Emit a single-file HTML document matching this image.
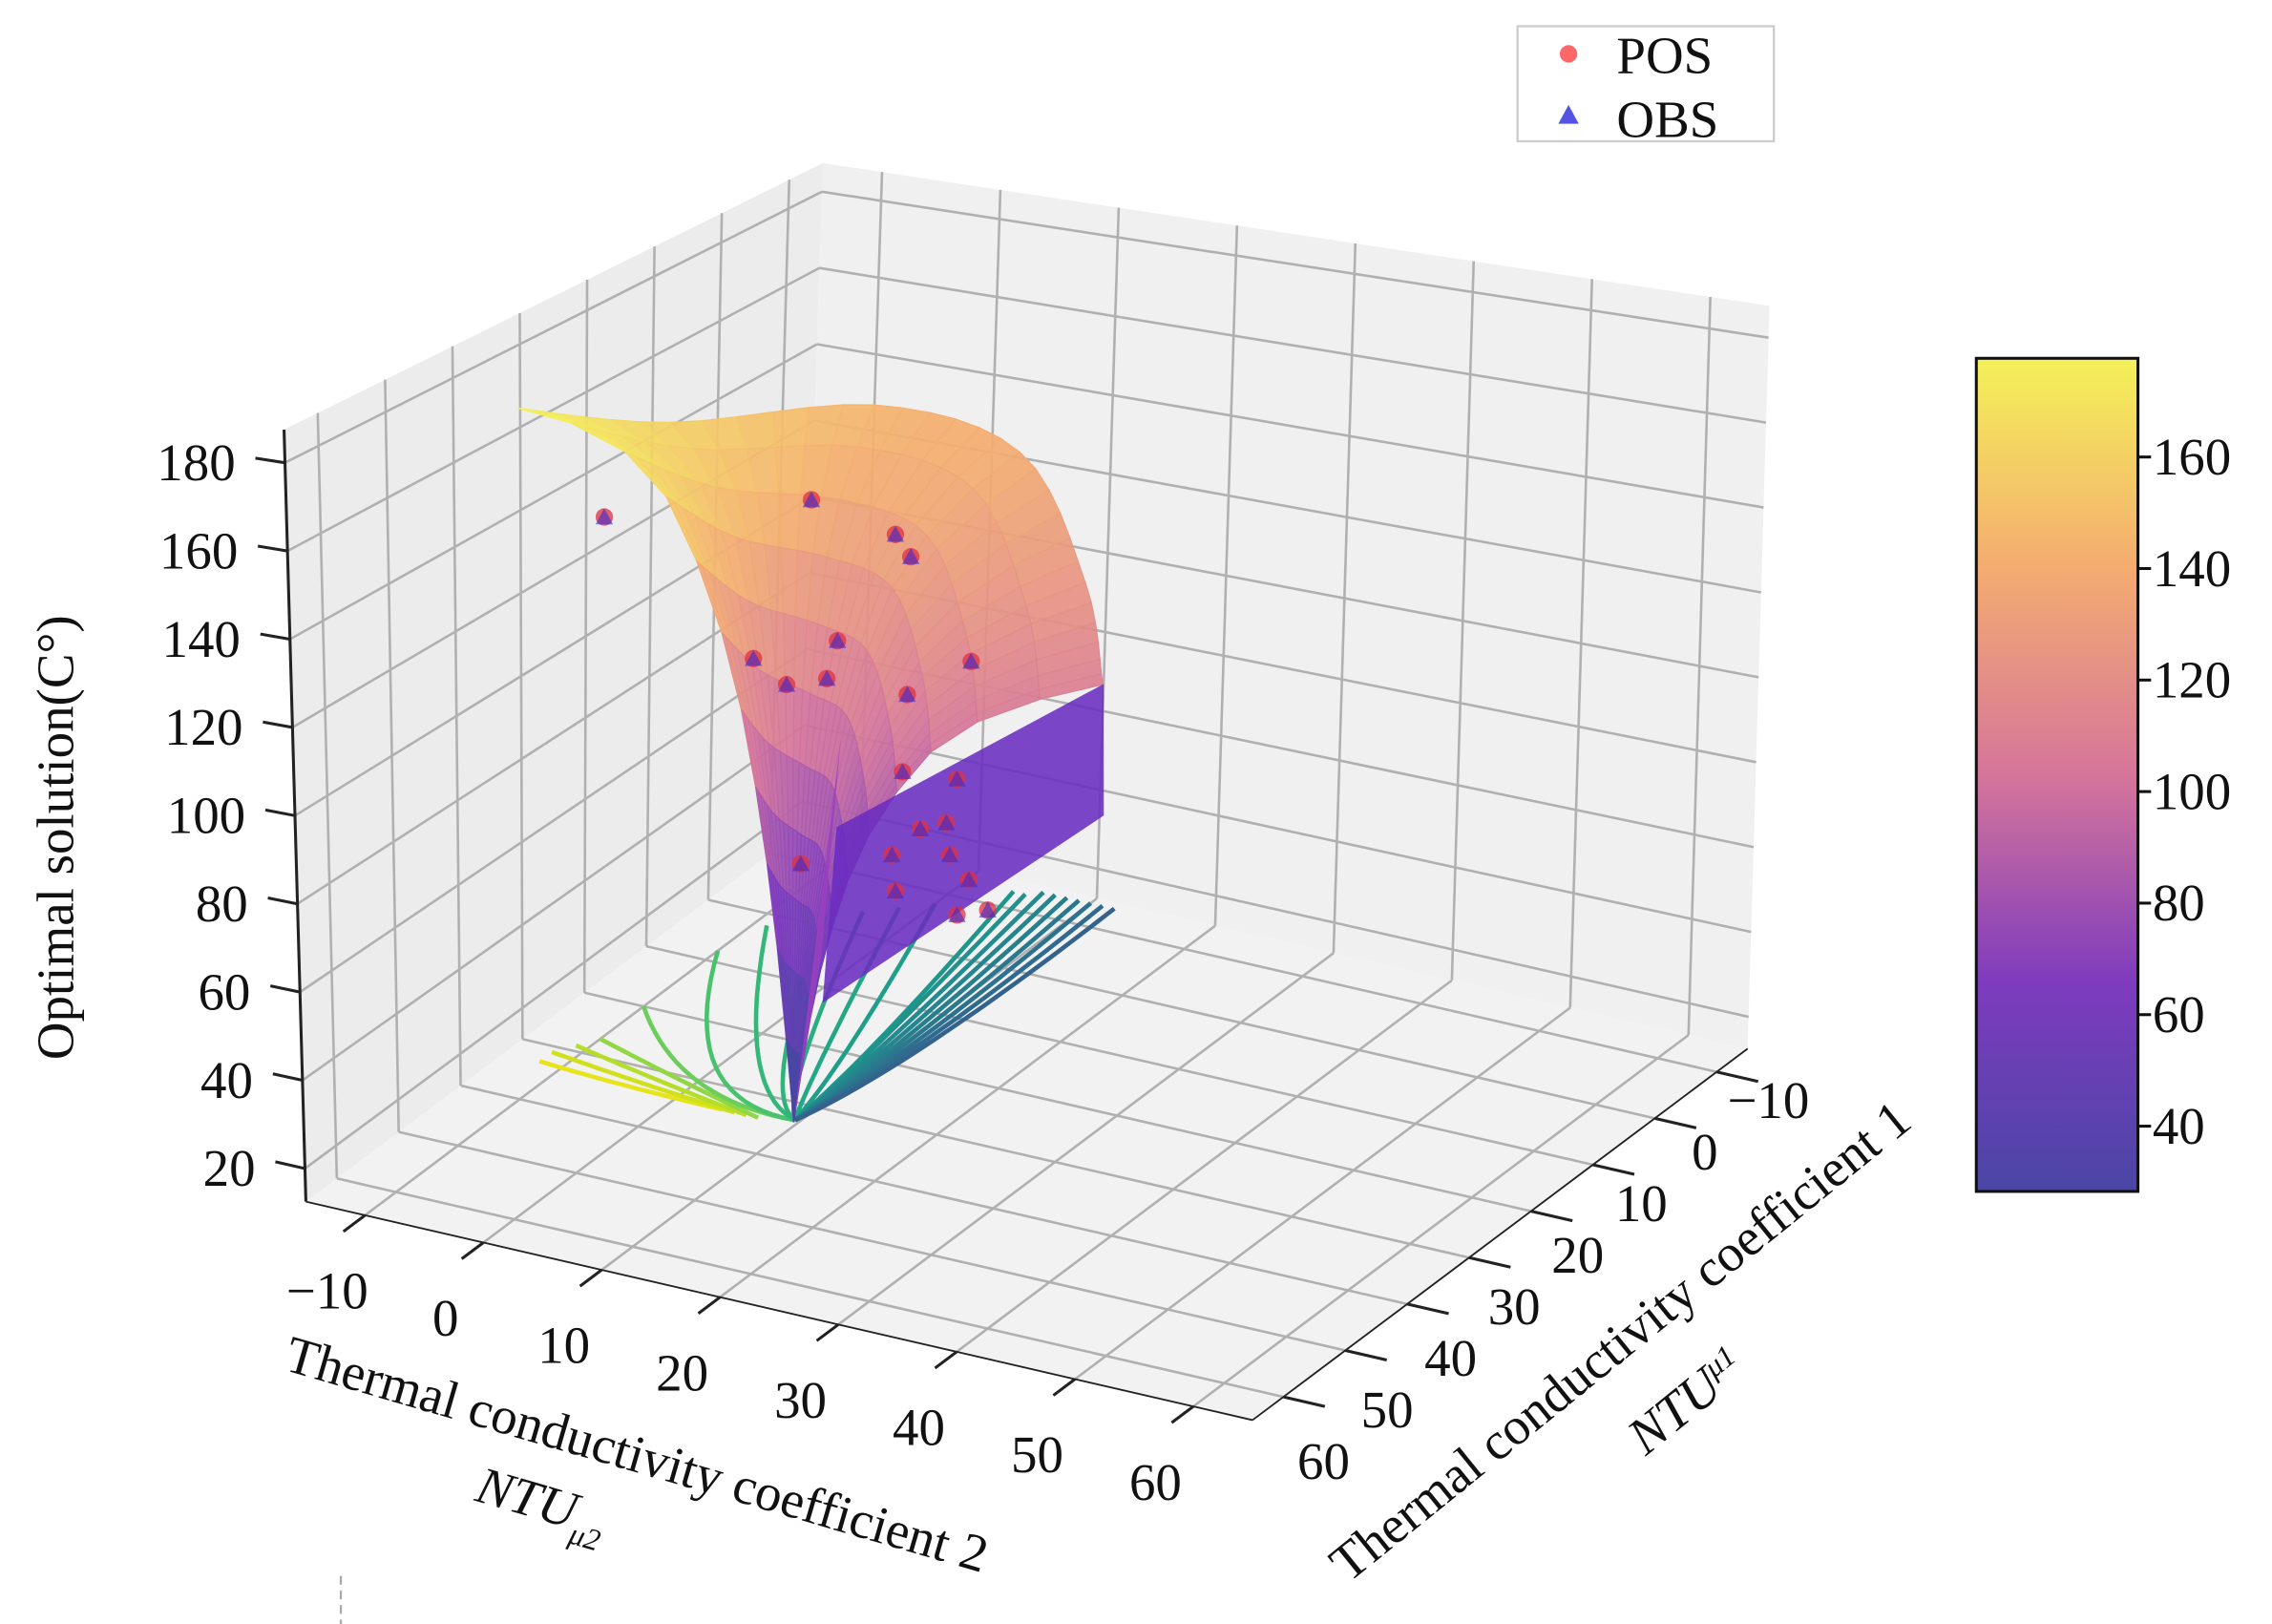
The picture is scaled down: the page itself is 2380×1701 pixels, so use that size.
<!DOCTYPE html>
<html><head><meta charset="utf-8"><style>
html,body{margin:0;padding:0;background:#fff;}
svg{display:block;}
text{font-family:"Liberation Serif",serif;fill:#111;}
</style></head><body>
<svg id="chart" width="2380" height="1701" viewBox="0 0 1560 1115" xmlns="http://www.w3.org/2000/svg">
<defs>
<linearGradient id="cbgrad" x1="0" y1="1" x2="0" y2="0">
<stop offset="0" stop-color="#4a46a5"/><stop offset="0.25" stop-color="#7e3bbe"/><stop offset="0.5" stop-color="#d5759a"/><stop offset="0.75" stop-color="#f4ac70"/><stop offset="1" stop-color="#f3f158"/>
</linearGradient>
</defs>
<g id="panes"></g>
<g id="grid"></g>
<g id="contours"></g>
<g id="surface"></g>
<g id="scatter"></g>
<g id="axes"></g>
<text x="0" y="0" font-size="36" text-anchor="middle" transform="translate(50,575) rotate(-90)">Optimal solution(C°)</text>
<text font-size="36" text-anchor="middle" transform="translate(434,1010) rotate(16.2)">Thermal conductivity coefficient 2</text>
<text font-size="36" font-style="italic" transform="translate(325,1030) rotate(16.2)">NTU<tspan font-size="21" dy="10">μ2</tspan></text>
<text font-size="36" text-anchor="middle" transform="translate(1120,930) rotate(-39)">Thermal conductivity coefficient 1</text>
<text font-size="36" font-style="italic" transform="translate(1130,1000) rotate(-39)">NTU<tspan font-size="21" dy="-12">μ1</tspan></text>
<g>
<rect x="1357" y="246" width="111" height="572" fill="url(#cbgrad)" stroke="#111" stroke-width="2"/>
<g id="cbticks"></g>
</g>
<g>
<rect x="1042" y="18" width="176" height="79" fill="#fff" stroke="#ccc" stroke-width="1.5"/>
<circle cx="1077" cy="37" r="6" fill="#ff4d4d" opacity="0.85"/>
<text x="1110" y="50" font-size="36">POS</text>
<polygon points="1077,72 1084,85 1070,85" fill="#3535e0" opacity="0.85"/>
<text x="1110" y="94" font-size="36">OBS</text>
</g>
<line x1="234" y1="1082" x2="234" y2="1115" stroke="#aaa" stroke-width="1.5" stroke-dasharray="6,4"/>
</svg>
<script>
// axis ticks
var xTicks = [-10,0,10,20,30,40,50,60];
var yTicks = [-10,0,10,20,30,40,50,60];
var zTicks = [20,40,60,80,100,120,140,160,180];
var cbTicks = [40,60,80,100,120,140,160];
// surface data (ribs from top boundary converging to tip)
var surfTopX = [-8.1,-5.9,-2,10.5,22.6,27.9];
var surfTopY = [42.6,23.7,-0.3,0.05,11.7,18.6];
var surfTopZ = [178,160,145,140,125,110];
var surfTip = [12.5,38.7,20];
var surfProfileF = [0,0.2,0.4,0.55,0.66,0.75,0.82,0.87,0.91,0.945,0.975,1];
var surfProfileH = [1,0.985,0.95,0.89,0.8,0.7,0.59,0.48,0.37,0.25,0.12,0];
// purple plane & spike
var planeX = [8.8,32.6,32.6,10];
var planeY = [27,27,27,27];
var planeZ = [33,90,120,75];
var spikeX = [12.5,16.8,15];
var spikeY = [38.7,38.7,38.7];
var spikeZ = [20,110,60];
// scatter POS / OBS
var ptsX = [-10.7,6.8,13.9,15.2,9,1.9,4.7,8.1,14.9,20.3,14.5,19.1,16,18.2,13.6,18.5,5.9,20.1,13.9,19.1,21.7];
var ptsY = [25,25,25,25,25,25,25,25,25,25,25,25,25,25,25,25,25,25,25,25,25];
var ptsZ = [136,148.6,143.8,139.2,116.4,108.5,103.8,107,106.8,117.3,88.5,89.3,76,78.6,68.5,71.3,62,66.4,60.2,57.7,60.3];
// floor contour curves
var contStartX = [4,5,6,7,9.6,9.6,9.6,9.6,9.6,9.6,9.6,9.6,9.6,9.6,9.6,9.6,9.6,9.6,9.6,9.6];
var contStartY = [34,34,34,34,33,33,33,33,33,33,33,33,33,33,33,33,33,33,33,33];
var contCtrlX = [-4,-3,-2,-1,0,0,3,5,6,7,8,9,9,9.5,10,10.5,11,11.5,12,12.5];
var contCtrlY = [34,33,32,31,34,34,30,30,28,26,22,20,20,20,20,20,20,20,20,20];
var contEndX = [-12,-12,-11,-10,-10,-10,-9,-6,-4,-2,0,4,5,6,7,8,9,10,11,12];
var contEndY = [33,31,29,27,20,8,2,-2,-4,-6,-8,-13,-13,-14,-14,-14,-14,-14,-14,-14];
var contColor = ['#e7e419','#d0e11c','#b5de2b','#90d743','#6ccd5a','#4ac16d','#35b779','#2fb47c','#29af7f','#22a884','#1f9e89','#1f968b','#21918c','#238a8d','#25848e','#277f8e','#2a788e','#2d718e','#306a8e','#33638d'];

var NS='http://www.w3.org/2000/svg';
var A=[210,825];
function P(x,y,z){
  var u=(x+15)/80, v=(65-y)/80, w=(z-12.5)/175;
  var fx=A[0]+u*650+v*340, fy=A[1]+u*150-v*255;
  var tx=195+u*650+v*370, ty=295+u*98-v*183;
  return [fx+w*(tx-fx), fy+w*(ty-fy)];
}
function el(tag,attrs,parent){var e=document.createElementNS(NS,tag);for(var k in attrs)e.setAttribute(k,attrs[k]);parent.appendChild(e);return e;}
function pts(arr){return arr.map(function(p){return p[0].toFixed(1)+','+p[1].toFixed(1);}).join(' ');}
var XMIN=-15,XMAX=65,YMIN=-15,YMAX=65,ZMIN=12.5,ZMAX=187.5;

// panes
var panes=document.getElementById('panes');
var fl=el('polygon',{points:pts([P(XMIN,YMAX,ZMIN),P(XMAX,YMAX,ZMIN),P(XMAX,YMIN,ZMIN),P(XMIN,YMIN,ZMIN)]),fill:'#f2f2f2'},panes);


var lw=el('polygon',{points:pts([P(XMIN,YMAX,ZMIN),P(XMIN,YMIN,ZMIN),P(XMIN,YMIN,ZMAX),P(XMIN,YMAX,ZMAX)]),fill:'#ececec'},panes);


var bw=el('polygon',{points:pts([P(XMIN,YMIN,ZMIN),P(XMAX,YMIN,ZMIN),P(XMAX,YMIN,ZMAX),P(XMIN,YMIN,ZMAX)]),fill:'#f0f0f0'},panes);



// grid
var grid=document.getElementById('grid');
function gl(a,b,name){var l=el('line',{x1:a[0],y1:a[1],x2:b[0],y2:b[1],stroke:'#b0b0b0','stroke-width':1.7},grid);

}
xTicks.forEach(function(x){gl(P(x,YMAX,ZMIN),P(x,YMIN,ZMIN),'grid-x-floor');gl(P(x,YMIN,ZMIN),P(x,YMIN,ZMAX),'grid-x-back');});
yTicks.forEach(function(y){gl(P(XMIN,y,ZMIN),P(XMAX,y,ZMIN),'grid-y-floor');gl(P(XMIN,y,ZMIN),P(XMIN,y,ZMAX),'grid-y-left');});
zTicks.forEach(function(z){gl(P(XMIN,YMAX,z),P(XMIN,YMIN,z),'grid-z-left');gl(P(XMIN,YMIN,z),P(XMAX,YMIN,z),'grid-z-back');});

// contours
var cg=document.getElementById('contours');
for(var k=0;k<contEndX.length;k++){
  var arr=[];
  for(var s=0;s<=20;s++){var t=s/20;
    var x=(1-t)*(1-t)*contStartX[k]+2*t*(1-t)*contCtrlX[k]+t*t*contEndX[k];
    var y=(1-t)*(1-t)*contStartY[k]+2*t*(1-t)*contCtrlY[k]+t*t*contEndY[k];
    arr.push(P(x,y,ZMIN));}
  var pl=el('polyline',{points:pts(arr),fill:'none',stroke:contColor[k],'stroke-width':3},cg);
  
  
}

// colormap
var stops=[[0,[74,70,165]],[0.25,[126,59,190]],[0.5,[213,117,154]],[0.75,[244,172,112]],[1,[243,241,88]]];
function cmap(z){var t=(z-28.3)/(177.7-28.3);t=Math.max(0,Math.min(1,t));
  for(var i=0;i<stops.length-1;i++){if(t<=stops[i+1][0]){var f=(t-stops[i][0])/(stops[i+1][0]-stops[i][0]);var a=stops[i][1],b=stops[i+1][1];
    return 'rgb('+Math.round(a[0]+f*(b[0]-a[0]))+','+Math.round(a[1]+f*(b[1]-a[1]))+','+Math.round(a[2]+f*(b[2]-a[2]))+')';}}
  return 'rgb(243,241,88)';}

// surface: Catmull-Rom smoothing of the top boundary
var sg=document.getElementById('surface');
function topPt(i){i=Math.max(0,Math.min(surfTopX.length-1,i));return [surfTopX[i],surfTopY[i],surfTopZ[i]];}
function cr(p0,p1,p2,p3,t){var t2=t*t,t3=t2*t;var o=[];for(var d=0;d<3;d++){o.push(0.5*((2*p1[d])+(-p0[d]+p2[d])*t+(2*p0[d]-5*p1[d]+4*p2[d]-p3[d])*t2+(-p0[d]+3*p1[d]-3*p2[d]+p3[d])*t3));}return o;}
var ribs=[];var SUB=6;
for(var i=0;i<surfTopX.length-1;i++){for(var s=0;s<SUB;s++){
  ribs.push(cr(topPt(i-1),topPt(i),topPt(i+1),topPt(i+2),s/SUB));}}
ribs.push(topPt(surfTopX.length-1));
function ribPt(r,j){var T=ribs[r],f=surfProfileF[j],h=surfProfileH[j];
  return [T[0]+f*(surfTip[0]-T[0]),T[1]+f*(surfTip[1]-T[1]),surfTip[2]+h*(T[2]-surfTip[2])];}
for(var r=ribs.length-2;r>=0;r--){
  for(var j=0;j<surfProfileF.length-1;j++){
    var a=ribPt(r,j),b=ribPt(r+1,j),c=ribPt(r+1,j+1),d=ribPt(r,j+1);
    var zc=(a[2]+b[2]+c[2]+d[2])/4;var col=cmap(zc);
    var q=el('polygon',{points:pts([P(a[0],a[1],a[2]),P(b[0],b[1],b[2]),P(c[0],c[1],c[2]),P(d[0],d[1],d[2])]),fill:col,stroke:col,'stroke-width':0.8,'fill-opacity':0.92},sg);
    
    
  }
}
var spk=el('polygon',{points:pts(spikeX.map(function(x,i){return P(x,spikeY[i],spikeZ[i]);})),fill:'#9a40c0','fill-opacity':0.85},sg);



// scatter
var scg=document.getElementById('scatter');
for(var i=0;i<ptsX.length;i++){var p=P(ptsX[i],ptsY[i],ptsZ[i]);
  var c1=el('circle',{cx:p[0],cy:p[1],r:6,fill:'#e03040','fill-opacity':0.75},scg);
  
  
  var t1=el('polygon',{points:pts([[p[0],p[1]-6],[p[0]+6,p[1]+5],[p[0]-6,p[1]+5]]),fill:'#3a2ad0','fill-opacity':0.6},scg);
  
  
}
var pln=el('polygon',{points:pts(planeX.map(function(x,i){return P(x,planeY[i],planeZ[i]);})),fill:'#6a2cc0','fill-opacity':0.88},sg);



// axes
var ag=document.getElementById('axes');
function al(a,b,name,w){var l=el('line',{x1:a[0],y1:a[1],x2:b[0],y2:b[1],stroke:'#222','stroke-width':w||2},ag);

}
al(P(XMIN,YMAX,ZMIN),P(XMIN,YMAX,ZMAX),'z-axis-line');
al(P(XMIN,YMAX,ZMIN),P(XMAX,YMAX,ZMIN),'x-axis-line',1.2);
al(P(XMAX,YMAX,ZMIN),P(XMAX,YMIN,ZMIN),'y-axis-line',1.2);
zTicks.forEach(function(z){var a=P(XMIN,YMAX,z),b=P(XMIN-2.5,YMAX,z);al(a,b,'z-tick');
  var t=el('text',{x:a[0]-34,y:a[1]+12,'font-size':36,'text-anchor':'end'},ag);t.textContent=z;
  
  });
xTicks.forEach(function(x){var a=P(x,YMAX,ZMIN),b=P(x,YMAX+3.5,ZMIN);al(a,b,'x-tick');
  var t=el('text',{x:a[0]-26,y:a[1]+64,'font-size':36,'text-anchor':'middle'},ag);t.textContent=(x<0?'\u2212'+(-x):x);
  
  });
yTicks.forEach(function(y){var a=P(XMAX,y,ZMIN),b=P(XMAX+3.5,y,ZMIN);al(a,b,'y-tick');
  var v=(65-y)/80;
  var t=el('text',{x:a[0]+27+9*v,y:a[1]+58-28*v,'font-size':36,'text-anchor':'middle'},ag);t.textContent=(y<0?'\u2212'+(-y):y);
  
  });

// colorbar ticks
var cbt=document.getElementById('cbticks');
cbTicks.forEach(function(v){var y=246+(177.7-v)/(177.7-28.3)*572;
  var l=el('line',{x1:1468,y1:y,x2:1477,y2:y,stroke:'#111','stroke-width':2},cbt);
  
  
  var t=el('text',{x:1478,y:y+12,'font-size':36},cbt);t.textContent=v;
  
  });
</script>
</body></html>
